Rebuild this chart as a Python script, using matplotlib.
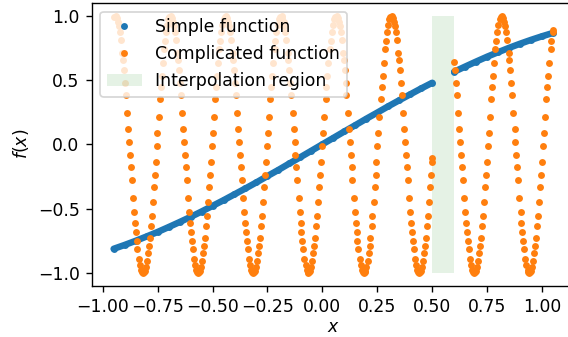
import matplotlib
matplotlib.use("Agg")
import matplotlib.pyplot as plt
import numpy as np

# simple function samples (gap over the interpolation region)
blue_x = [-0.95, -0.90, -0.85, -0.80, -0.75, -0.70, -0.65, -0.60, -0.55, -0.50,
          -0.45, -0.40, -0.35, -0.30, -0.25, -0.20, -0.15, -0.10, -0.05, 0.00,
          0.05, 0.10, 0.15, 0.20, 0.25, 0.30, 0.35, 0.40, 0.45, 0.50,
          0.60, 0.65, 0.70, 0.75, 0.80, 0.85, 0.90, 0.95, 1.00, 1.05]
blue_y = [-0.813, -0.783, -0.751, -0.717, -0.682, -0.644, -0.605, -0.565, -0.523, -0.479,
          -0.435, -0.389, -0.343, -0.296, -0.247, -0.199, -0.149, -0.100, -0.050, 0.000,
          0.050, 0.100, 0.149, 0.199, 0.247, 0.296, 0.343, 0.389, 0.435, 0.479,
          0.565, 0.605, 0.644, 0.682, 0.717, 0.751, 0.783, 0.813, 0.841, 0.867]

# complicated function samples
orange_x = [
    -0.9480,
    -0.9395, -0.9305, -0.9225, -0.9115, -0.9045, -0.8955, -0.8845, -0.8765, -0.8685,
    -0.8575, -0.8495, -0.8415, -0.8305, -0.8215, -0.8135, -0.8045, -0.7945, -0.7865,
    -0.7775, -0.7675, -0.7595, -0.7505, -0.7395, -0.7315, -0.7205, -0.7115, -0.7005,
    -0.6842, -0.6752, -0.6662, -0.6572, -0.6482, -0.6382, -0.6292, -0.6212, -0.6112,
    -0.6022, -0.5942, -0.5842, -0.5742, -0.5662, -0.5582, -0.5482, -0.5392, -0.5302,
    -0.5212, -0.5122, -0.5032, -0.4942, -0.4842, -0.4752, -0.4652, -0.4552, -0.4452,
    -0.4368, -0.4278, -0.4198, -0.4088, -0.4018, -0.3928, -0.3818, -0.3738, -0.3658,
    -0.3548, -0.3468, -0.3388, -0.3278, -0.3188, -0.3108, -0.3018, -0.2918, -0.2838,
    -0.2748, -0.2648, -0.2568, -0.2478, -0.2368, -0.2288, -0.2178, -0.2088, -0.1978,
    -0.1815, -0.1725, -0.1635, -0.1545, -0.1455, -0.1355, -0.1265, -0.1185, -0.1085,
    -0.0995, -0.0915, -0.0815, -0.0715, -0.0635, -0.0555, -0.0455, -0.0365, -0.0275,
    -0.0185, -0.0095, -0.0005, 0.0085, 0.0185, 0.0275, 0.0375, 0.0475, 0.0575,
    0.0658, 0.0748, 0.0828, 0.0938, 0.1008, 0.1098, 0.1208, 0.1288, 0.1368,
    0.1478, 0.1558, 0.1638, 0.1748, 0.1838, 0.1918, 0.2008, 0.2108, 0.2188,
    0.2278, 0.2378, 0.2458, 0.2548, 0.2658, 0.2738, 0.2848, 0.2938, 0.3048,
    0.3212, 0.3302, 0.3392, 0.3482, 0.3572, 0.3672, 0.3762, 0.3842, 0.3942,
    0.4032, 0.4112, 0.4212, 0.4312, 0.4392, 0.4472, 0.4572, 0.4662, 0.4752,
    0.4842, 0.4932, 0.4985,
    0.6005, 0.6035, 0.6125, 0.6235, 0.6315, 0.6395, 0.6505, 0.6585, 0.6665,
    0.6775, 0.6865, 0.6945, 0.7035, 0.7135, 0.7215, 0.7305, 0.7405, 0.7485,
    0.7575, 0.7685, 0.7765, 0.7875, 0.7965, 0.8075,
    0.8238, 0.8328, 0.8418, 0.8508, 0.8598, 0.8698, 0.8788, 0.8868, 0.8968,
    0.9058, 0.9138, 0.9238, 0.9338, 0.9418, 0.9498, 0.9598, 0.9688, 0.9778,
    0.9868, 0.9958, 1.0048, 1.0138, 1.0238, 1.0328, 1.0428, 1.0495,
    # second pass of samples
    -0.9355, -0.9265, -0.9175, -0.9085, -0.8995, -0.8895, -0.8805, -0.8725, -0.8625,
    -0.8535, -0.8455, -0.8355, -0.8255, -0.8175, -0.8095, -0.7995, -0.7905, -0.7815,
    -0.7725, -0.7635, -0.7545, -0.7455, -0.7355, -0.7265, -0.7165, -0.7065, -0.6965,
    -0.6882, -0.6792, -0.6712, -0.6602, -0.6532, -0.6442, -0.6332, -0.6252, -0.6172,
    -0.6062, -0.5982, -0.5902, -0.5792, -0.5702, -0.5622, -0.5532, -0.5432, -0.5352,
    -0.5262, -0.5162, -0.5082, -0.4992, -0.4882, -0.4802, -0.4692, -0.4602, -0.4492,
    -0.4328, -0.4238, -0.4148, -0.4058, -0.3968, -0.3868, -0.3778, -0.3698, -0.3598,
    -0.3508, -0.3428, -0.3328, -0.3228, -0.3148, -0.3068, -0.2968, -0.2878, -0.2788,
    -0.2698, -0.2608, -0.2518, -0.2428, -0.2328, -0.2238, -0.2138, -0.2038, -0.1938,
    -0.1855, -0.1765, -0.1685, -0.1575, -0.1505, -0.1415, -0.1305, -0.1225, -0.1145,
    -0.1035, -0.0955, -0.0875, -0.0765, -0.0675, -0.0595, -0.0505, -0.0405, -0.0325,
    -0.0235, -0.0135, -0.0055, 0.0035, 0.0145, 0.0225, 0.0335, 0.0425, 0.0535,
    0.0698, 0.0788, 0.0878, 0.0968, 0.1058, 0.1158, 0.1248, 0.1328, 0.1428,
    0.1518, 0.1598, 0.1698, 0.1798, 0.1878, 0.1958, 0.2058, 0.2148, 0.2238,
    0.2328, 0.2418, 0.2508, 0.2598, 0.2698, 0.2788, 0.2888, 0.2988, 0.3088,
    0.3172, 0.3262, 0.3342, 0.3452, 0.3522, 0.3612, 0.3722, 0.3802, 0.3882,
    0.3992, 0.4072, 0.4152, 0.4262, 0.4352, 0.4432, 0.4522, 0.4622, 0.4702,
    0.4792, 0.4892, 0.4972,
    0.6085, 0.6185, 0.6275, 0.6355, 0.6455, 0.6545, 0.6625, 0.6725, 0.6825,
    0.6905, 0.6985, 0.7085, 0.7175, 0.7265, 0.7355, 0.7445, 0.7535, 0.7625,
    0.7725, 0.7815, 0.7915, 0.8015, 0.8115,
    0.8198, 0.8288, 0.8368, 0.8478, 0.8548, 0.8638, 0.8748, 0.8828, 0.8908,
    0.9018, 0.9098, 0.9178, 0.9288, 0.9378, 0.9458, 0.9548, 0.9648, 0.9728,
    0.9818, 0.9918, 0.9998, 1.0088, 1.0198, 1.0278, 1.0388, 1.0478,
]
orange_y = [
    0.9905,
    0.9972, 0.9553, 0.8776, 0.7145, 0.5817, 0.3855, 0.1205, -0.0791, -0.2756,
    -0.5263, -0.6848, -0.8159, -0.9422, -0.9932, -0.9965, -0.9528, -0.8481, -0.7260,
    -0.5543, -0.3313, -0.1370, 0.0875, 0.3547, 0.5334, 0.7432, 0.8737, 0.9729,
    0.9847, 0.9211, 0.8112, 0.6600, 0.4759, 0.2433, 0.0208, -0.1782, -0.4161,
    -0.6086, -0.7541, -0.8932, -0.9766, -0.9999, -0.9832, -0.9076, -0.7910, -0.6346,
    -0.4461, -0.2352, -0.0124, 0.2110, 0.4463, 0.6347, 0.8063, 0.9275, 0.9911,
    0.9972, 0.9553, 0.8776, 0.7145, 0.5817, 0.3855, 0.1205, -0.0791, -0.2756,
    -0.5263, -0.6848, -0.8159, -0.9422, -0.9932, -0.9965, -0.9528, -0.8481, -0.7260,
    -0.5543, -0.3313, -0.1370, 0.0875, 0.3547, 0.5334, 0.7432, 0.8737, 0.9729,
    0.9847, 0.9211, 0.8112, 0.6600, 0.4759, 0.2433, 0.0208, -0.1782, -0.4161,
    -0.6086, -0.7541, -0.8932, -0.9766, -0.9999, -0.9832, -0.9076, -0.7910, -0.6346,
    -0.4461, -0.2352, -0.0124, 0.2110, 0.4463, 0.6347, 0.8063, 0.9275, 0.9911,
    0.9972, 0.9553, 0.8776, 0.7145, 0.5817, 0.3855, 0.1205, -0.0791, -0.2756,
    -0.5263, -0.6848, -0.8159, -0.9422, -0.9932, -0.9965, -0.9528, -0.8481, -0.7260,
    -0.5543, -0.3313, -0.1370, 0.0875, 0.3547, 0.5334, 0.7432, 0.8737, 0.9729,
    0.9847, 0.9211, 0.8112, 0.6600, 0.4759, 0.2433, 0.0208, -0.1782, -0.4161,
    -0.6086, -0.7541, -0.8932, -0.9766, -0.9999, -0.9832, -0.9076, -0.7910, -0.6346,
    -0.4461, -0.2352, -0.1047,
    0.6410, 0.5817, 0.3855, 0.1205, -0.0791, -0.2756, -0.5263, -0.6848, -0.8159,
    -0.9422, -0.9932, -0.9965, -0.9528, -0.8481, -0.7260, -0.5543, -0.3313, -0.1370,
    0.0875, 0.3547, 0.5334, 0.7432, 0.8737, 0.9729,
    0.9847, 0.9211, 0.8112, 0.6600, 0.4759, 0.2433, 0.0208, -0.1782, -0.4161,
    -0.6086, -0.7541, -0.8932, -0.9766, -0.9999, -0.9832, -0.9076, -0.7910, -0.6346,
    -0.4461, -0.2352, -0.0124, 0.2110, 0.4463, 0.6347, 0.8063, 0.8935,
    # second pass of samples
    0.9847, 0.9211, 0.8112, 0.6600, 0.4759, 0.2433, 0.0208, -0.1782, -0.4161,
    -0.6086, -0.7541, -0.8932, -0.9766, -0.9999, -0.9832, -0.9076, -0.7910, -0.6346,
    -0.4461, -0.2352, -0.0124, 0.2110, 0.4463, 0.6347, 0.8063, 0.9275, 0.9911,
    0.9972, 0.9553, 0.8776, 0.7145, 0.5817, 0.3855, 0.1205, -0.0791, -0.2756,
    -0.5263, -0.6848, -0.8159, -0.9422, -0.9932, -0.9965, -0.9528, -0.8481, -0.7260,
    -0.5543, -0.3313, -0.1370, 0.0875, 0.3547, 0.5334, 0.7432, 0.8737, 0.9729,
    0.9847, 0.9211, 0.8112, 0.6600, 0.4759, 0.2433, 0.0208, -0.1782, -0.4161,
    -0.6086, -0.7541, -0.8932, -0.9766, -0.9999, -0.9832, -0.9076, -0.7910, -0.6346,
    -0.4461, -0.2352, -0.0124, 0.2110, 0.4463, 0.6347, 0.8063, 0.9275, 0.9911,
    0.9972, 0.9553, 0.8776, 0.7145, 0.5817, 0.3855, 0.1205, -0.0791, -0.2756,
    -0.5263, -0.6848, -0.8159, -0.9422, -0.9932, -0.9965, -0.9528, -0.8481, -0.7260,
    -0.5543, -0.3313, -0.1370, 0.0875, 0.3547, 0.5334, 0.7432, 0.8737, 0.9729,
    0.9847, 0.9211, 0.8112, 0.6600, 0.4759, 0.2433, 0.0208, -0.1782, -0.4161,
    -0.6086, -0.7541, -0.8932, -0.9766, -0.9999, -0.9832, -0.9076, -0.7910, -0.6346,
    -0.4461, -0.2352, -0.0124, 0.2110, 0.4463, 0.6347, 0.8063, 0.9275, 0.9911,
    0.9972, 0.9553, 0.8776, 0.7145, 0.5817, 0.3855, 0.1205, -0.0791, -0.2756,
    -0.5263, -0.6848, -0.8159, -0.9422, -0.9932, -0.9965, -0.9528, -0.8481, -0.7260,
    -0.5543, -0.3313, -0.1370,
    0.4759, 0.2433, 0.0208, -0.1782, -0.4161, -0.6086, -0.7541, -0.8932, -0.9766,
    -0.9999, -0.9832, -0.9076, -0.7910, -0.6346, -0.4461, -0.2352, -0.0124, 0.2110,
    0.4463, 0.6347, 0.8063, 0.9275, 0.9911,
    0.9972, 0.9553, 0.8776, 0.7145, 0.5817, 0.3855, 0.1205, -0.0791, -0.2756,
    -0.5263, -0.6848, -0.8159, -0.9422, -0.9932, -0.9965, -0.9528, -0.8481, -0.7260,
    -0.5543, -0.3313, -0.1370, 0.0875, 0.3547, 0.5334, 0.7432, 0.8737,
]

region_x = [0.5, 0.6]
region_lo, region_hi = -1.0, 1.0

bx = np.array(blue_x)
by = np.array(blue_y)
left = bx <= region_x[0]
right = bx >= region_x[1]

dpi = 124
fig = plt.figure(figsize=(568 / dpi, 337 / dpi), dpi=dpi)
ax = fig.add_axes([0.1614, 0.1522, 0.851, 0.839])

# dense sampling shows up as a thick band
ax.plot(bx[left], by[left], color='C0', lw=3.8, solid_capstyle='round')
ax.plot(bx[right], by[right], color='C0', lw=3.8, solid_capstyle='round')
ax.plot(bx, by, '.', color='C0', label='Simple function')

ax.plot(orange_x, orange_y, '.', color='C1', label='Complicated function')

ax.fill_between(region_x, region_lo, region_hi, color='g', alpha=0.1,
                lw=0, label='Interpolation region')

ax.set_xlim(-1.05, 1.15)
ax.set_ylim(-1.1, 1.1)
ax.set_xticks([-1.0, -0.75, -0.5, -0.25, 0.0, 0.25, 0.5, 0.75, 1.0])
ax.set_xlabel('$x$', labelpad=1.5)
ax.set_ylabel('$f(x)$')
ax.legend(loc='upper left')

fig.savefig('out.png', dpi=dpi)
